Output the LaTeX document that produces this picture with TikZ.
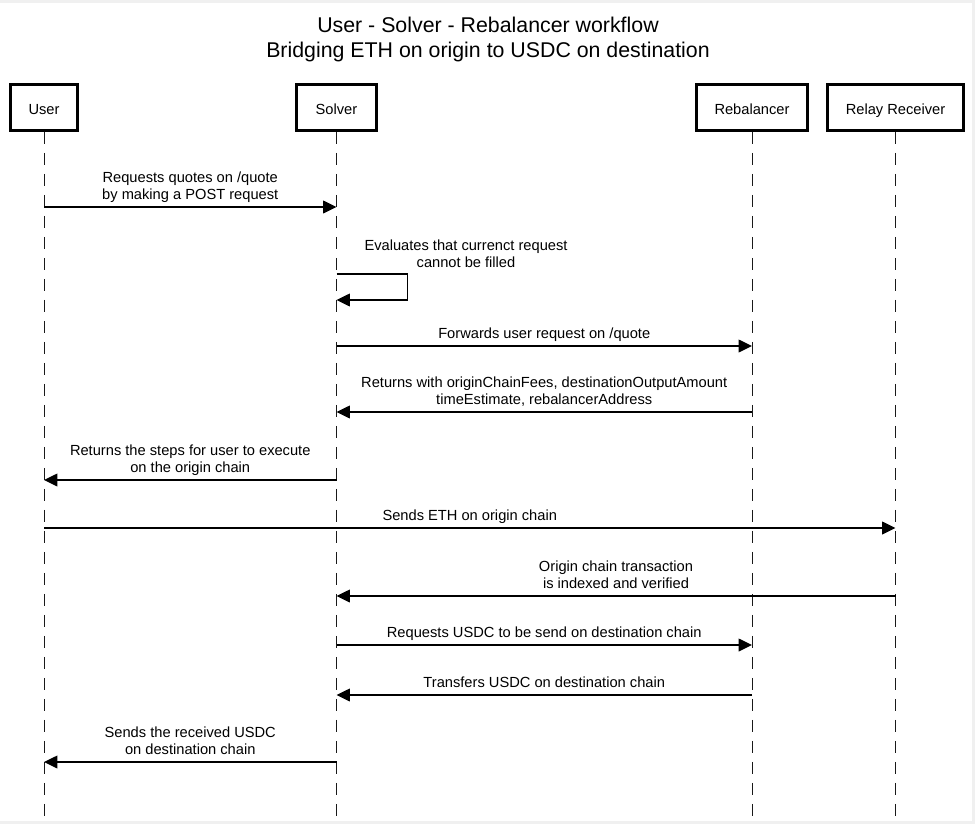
\documentclass[tikz,border=0pt]{standalone}
\usepackage{fontspec}
\setmainfont{Liberation Sans}
\usetikzlibrary{arrows.meta,positioning}

\begin{document}
\begin{tikzpicture}[x=0.75pt,y=-0.75pt,
    every node/.style={font=\fontsize{11}{12.75}\selectfont},
    titletext/.style={font=\fontsize{16}{18.75}\selectfont,align=center,inner sep=0pt},
    actorbox/.style={rectangle,draw=black,line width=2pt,fill=white,minimum height=34.5pt,inner sep=0pt,text height=11pt,text depth=0pt},
    lifeline/.style={black!90,line width=0.75pt,dash pattern=on 8.75pt off 7pt},
    msgarrow/.style={-{Triangle[length=10pt,width=9.5pt]},line width=1.1pt,black},
    msglabel/.style={align=center,inner sep=0pt,text depth=2.5pt},
]
\fill[black!6] (0,0) rectangle (975,824);
\fill[white] (0,3) rectangle (972,821);
\useasboundingbox (0,0) rectangle (975,824);

\node[titletext] (title) at (488,39) {User - Solver - Rebalancer workflow\\Bridging ETH on origin to USDC on destination};

\node[actorbox,minimum width=50pt]  (user)   at (44,107.5)  {User};
\node[actorbox,minimum width=60pt]  (solver) at (336.5,107.5) {Solver};
\node[actorbox,minimum width=83pt]  (rebal)  at (752,107.5) {Rebalancer};
\node[actorbox,minimum width=102pt] (relay)  at (895.5,107.5) {Relay Receiver};

\coordinate (bottom) at (0,821);
\draw[lifeline] (user.south) -- (user.south |- bottom);
\draw[lifeline] (solver.south) -- (solver.south |- bottom);
\draw[lifeline] (rebal.south) -- (rebal.south |- bottom);
\draw[lifeline] (relay.south) -- (relay.south |- bottom);

\draw[msgarrow] (user |- 0,207) -- (solver |- 0,207)
    node[msglabel,midway,above=2.5pt] (m1) {Requests quotes on /quote\\by making a POST request};
\draw[msgarrow] (solver |- 0,274) -- ++(71,0) -- ++(0,26) -- (solver |- 0,300);
\node[msglabel,anchor=south] (m2) at (466,271) {Evaluates that currenct request\\cannot be filled};
\draw[msgarrow] (solver |- 0,346) -- (rebal |- 0,346)
    node[msglabel,midway,above=2.5pt] (m3) {Forwards user request on /quote};
\draw[msgarrow] (rebal |- 0,412) -- (solver |- 0,412)
    node[msglabel,midway,above=2.5pt] (m4) {Returns with originChainFees, destinationOutputAmount\\timeEstimate, rebalancerAddress};
\draw[msgarrow] (solver |- 0,480) -- (user |- 0,480)
    node[msglabel,midway,above=2.5pt] (m5) {Returns the steps for user to execute\\on the origin chain};
\draw[msgarrow] (user |- 0,528) -- (relay |- 0,528)
    node[msglabel,midway,above=2.5pt] (m6) {Sends ETH on origin chain};
\draw[msgarrow] (relay |- 0,596) -- (solver |- 0,596)
    node[msglabel,midway,above=2.5pt] (m7) {Origin chain transaction\\is indexed and verified};
\draw[msgarrow] (solver |- 0,645) -- (rebal |- 0,645)
    node[msglabel,midway,above=2.5pt] (m8) {Requests USDC to be send on destination chain};
\draw[msgarrow] (rebal |- 0,695) -- (solver |- 0,695)
    node[msglabel,midway,above=2.5pt] (m9) {Transfers USDC on destination chain};
\draw[msgarrow] (solver |- 0,762) -- (user |- 0,762)
    node[msglabel,midway,above=2.5pt] (m10) {Sends the received USDC\\on destination chain};
\end{tikzpicture}
\end{document}
